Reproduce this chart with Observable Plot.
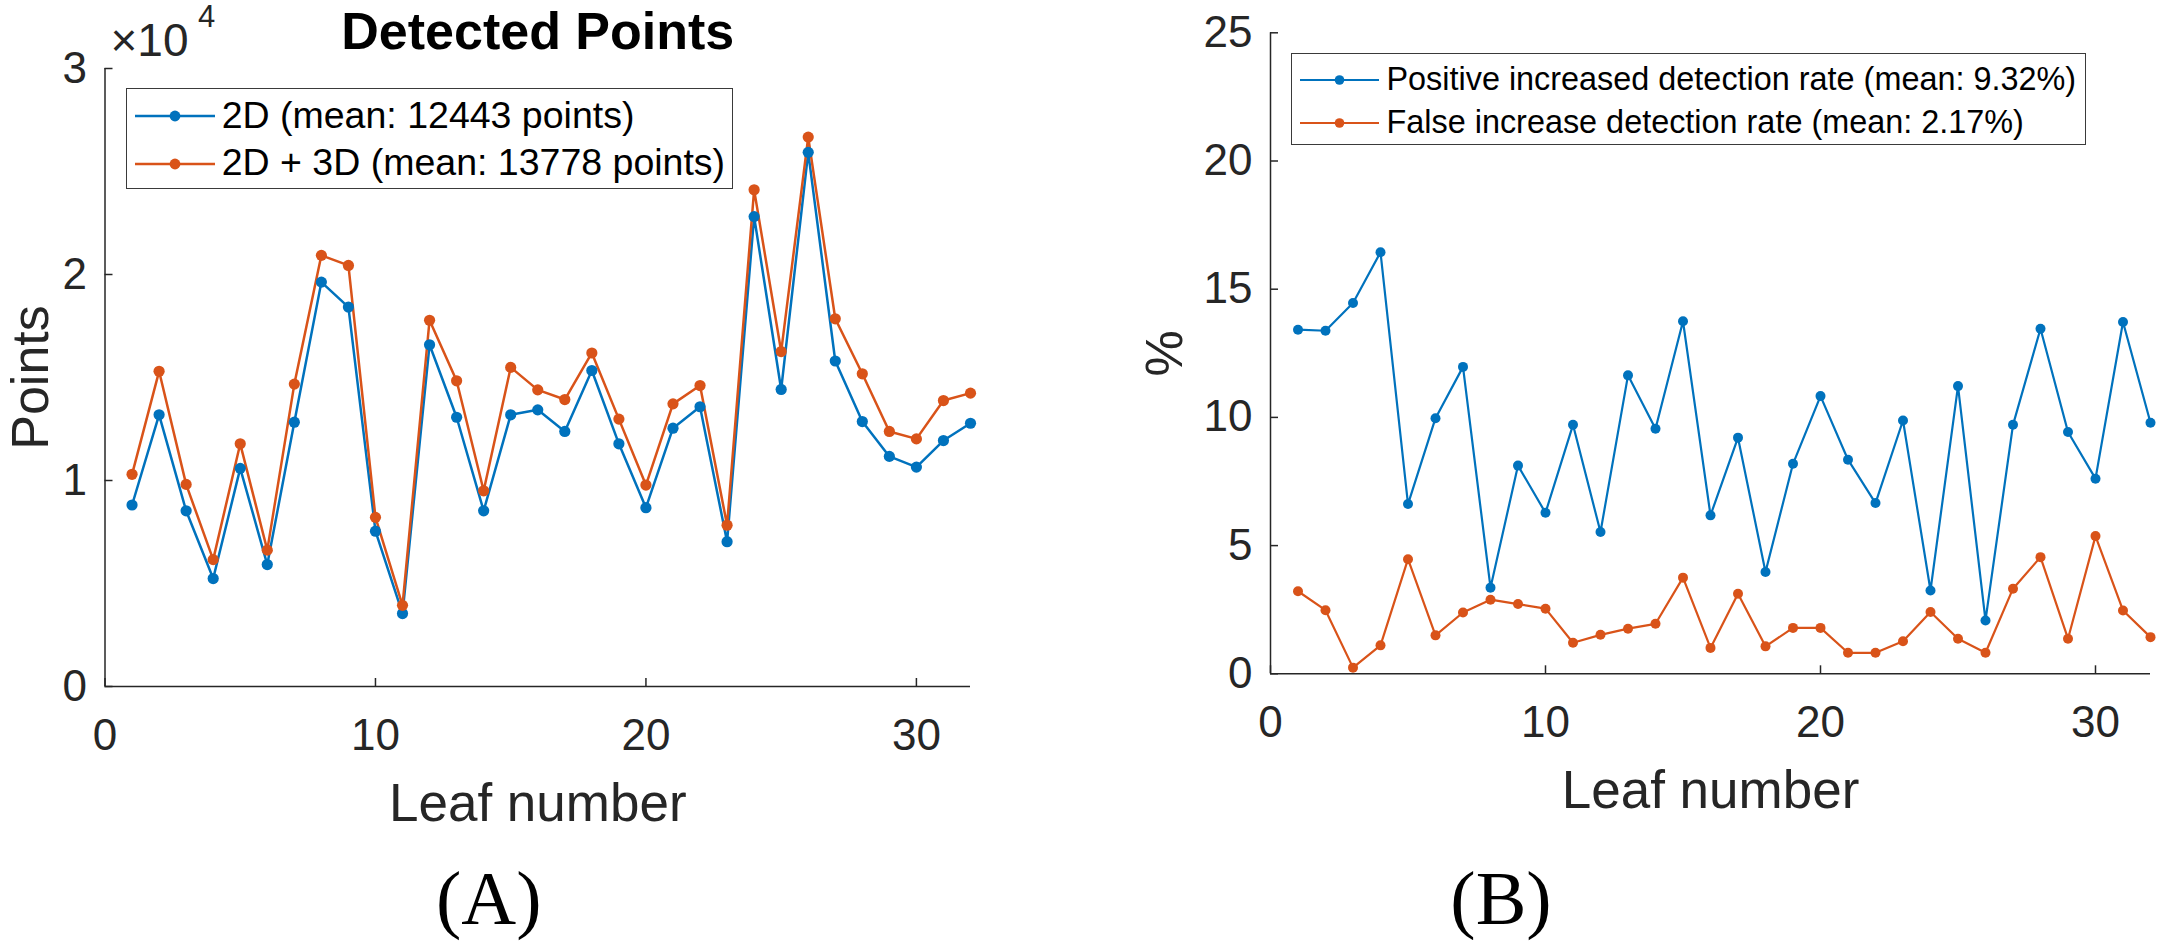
<!DOCTYPE html>
<html>
<head>
<meta charset="utf-8">
<script src="https://cdn.jsdelivr.net/npm/d3@7"></script>
<script src="https://cdn.jsdelivr.net/npm/@observablehq/plot@0.6"></script>
<style>
html, body { margin: 0; padding: 0; background: #fff; }
#page { position: relative; width: 2162px; height: 947px; overflow: hidden; font-family: "Liberation Sans", Arial, Helvetica, sans-serif; color: #000; }
.panel { position: absolute; top: 0; }
.legend { position: absolute; box-sizing: border-box; border: 1.5px solid #3a3a3a; background: #fff; }
.legend svg { position: absolute; overflow: visible; }
.legend .txt { position: absolute; white-space: nowrap; line-height: 1; color: #000; }
</style>
</head>
<body>
<div id="page"></div>
<script>
// ---------- data ----------
const leaves = [1, 2, 3, 4, 5, 6, 7, 8, 9, 10, 11, 12, 13, 14, 15, 16, 17, 18, 19, 20, 21, 22, 23, 24, 25, 26, 27, 28, 29, 30, 31, 32];
const points2D = [8810, 13190, 8530, 5240, 10590, 5920, 12830, 19630, 18420, 7540, 3540, 16590, 13070, 8530, 13190, 13430, 12380, 15340, 11780, 8680, 12540, 13580, 7030, 22810, 14420, 25930, 15800, 12860, 11170, 10650, 11940, 12780];
const points2D3D = [10300, 15300, 9810, 6160, 11780, 6620, 14680, 20930, 20440, 8210, 3940, 17780, 14840, 9500, 15490, 14400, 13930, 16190, 12980, 9780, 13720, 14610, 7830, 24110, 16260, 26670, 17850, 15180, 12380, 12020, 13880, 14240];
const positiveRate = [13.42, 13.38, 14.46, 16.44, 6.62, 9.97, 11.97, 3.36, 8.12, 6.28, 9.71, 5.53, 11.64, 9.56, 13.75, 6.18, 9.21, 3.97, 8.19, 10.83, 8.35, 6.66, 9.88, 3.25, 11.22, 2.08, 9.71, 13.46, 9.43, 7.61, 13.72, 9.79];
const falseRate = [3.22, 2.48, 0.24, 1.11, 4.47, 1.50, 2.39, 2.89, 2.72, 2.54, 1.21, 1.52, 1.76, 1.95, 3.75, 1.01, 3.12, 1.07, 1.79, 1.79, 0.82, 0.82, 1.27, 2.41, 1.37, 0.82, 3.32, 4.55, 1.37, 5.37, 2.47, 1.43];

const seriesA = ["2D (mean: 12443 points)", "2D + 3D (mean: 13778 points)"];
const seriesB = ["Positive increased detection rate (mean: 9.32%)", "False increase detection rate (mean: 2.17%)"];
const colors = ["#0072BD", "#D95319"];

const xTicks = [0, 10, 20, 30];
const yTicksA = [0, 10000, 20000, 30000];
const yTicksB = [0, 5, 10, 15, 20, 25];
const xDomain = [0, 32];
const yDomainA = [0, 30000];
const yDomainB = [0, 25];

const titleA = "Detected Points";
const xLabel = "Leaf number";
const yLabelA = "Points";
const yLabelB = "%";
const exponentBase = "×10";
const exponentPower = "4";
const panelLabels = ["(A)", "(B)"];

// ---------- build tables ----------
const dataA = [
  ...leaves.map((leaf, i) => ({leaf, value: points2D[i], series: seriesA[0]})),
  ...leaves.map((leaf, i) => ({leaf, value: points2D3D[i], series: seriesA[1]}))
];
const dataB = [
  ...leaves.map((leaf, i) => ({leaf, value: positiveRate[i], series: seriesB[0]})),
  ...leaves.map((leaf, i) => ({leaf, value: falseRate[i], series: seriesB[1]}))
];

const axisColor = "#262626";
const sans = '"Liberation Sans", Arial, Helvetica, sans-serif';
const serif = '"Liberation Serif", "Times New Roman", "DejaVu Serif", serif';
const page = document.getElementById("page");

function axes(yTicks, yFormat, label, labelDx) {
  return [
    Plot.ruleY([0], {stroke: axisColor, strokeWidth: 1.5}),
    Plot.ruleX([0], {stroke: axisColor, strokeWidth: 1.5}),
    Plot.axisX({ticks: xTicks, tickSize: -8, tickPadding: 40, fontSize: 44, label: null, stroke: axisColor, fill: axisColor, strokeWidth: 1.5}),
    Plot.axisY({ticks: yTicks, tickSize: -8, tickPadding: 26, fontSize: 44, tickFormat: yFormat, label: null, stroke: axisColor, fill: axisColor, strokeWidth: 1.5}),
    Plot.text([xLabel], {frameAnchor: "bottom", dy: 134, lineAnchor: "bottom", textAnchor: "middle", fontSize: 53, fill: axisColor}),
    Plot.text([label], {frameAnchor: "left", dx: labelDx, rotate: -90, lineAnchor: "bottom", textAnchor: "middle", fontSize: 52, fill: axisColor})
  ];
}

// ---------- panel A ----------
const plotA = Plot.plot({
  width: 1081, height: 947,
  marginLeft: 104.5, marginRight: 111, marginTop: 68, marginBottom: 261,
  x: {domain: xDomain},
  y: {domain: yDomainA},
  color: {domain: seriesA, range: colors},
  style: {fontFamily: sans, background: "transparent", overflow: "visible"},
  marks: [
    ...axes(yTicksA, d => d / 10000, yLabelA, -57),
    Plot.line(dataA, {x: "leaf", y: "value", z: "series", stroke: "series", strokeWidth: 2.5}),
    Plot.dot(dataA, {x: "leaf", y: "value", fill: "series", r: 5.6}),
    Plot.text([titleA], {frameAnchor: "top", dy: -20, lineAnchor: "bottom", textAnchor: "middle", fontSize: 52, fontWeight: "bold", fill: "#000"}),
    Plot.text([exponentBase], {frameAnchor: "top-left", dx: 5.5, dy: -13, lineAnchor: "bottom", textAnchor: "start", fontSize: 46, fill: axisColor}),
    Plot.text([exponentPower], {frameAnchor: "top-left", dx: 93, dy: -41.5, lineAnchor: "bottom", textAnchor: "start", fontSize: 31, fill: axisColor}),
    Plot.text([panelLabels[0]], {frameAnchor: "bottom", dx: -49, dy: 237, lineAnchor: "bottom", textAnchor: "middle", fontSize: 76, fontFamily: serif, fill: "#000"})
  ]
});
plotA.classList.add("panel");
plotA.style.left = "0px";
page.appendChild(plotA);

// ---------- panel B ----------
const plotB = Plot.plot({
  width: 1081, height: 947,
  marginLeft: 189, marginRight: 12, marginTop: 32.3, marginBottom: 273.7,
  x: {domain: xDomain},
  y: {domain: yDomainB},
  color: {domain: seriesB, range: colors},
  style: {fontFamily: sans, background: "transparent", overflow: "visible"},
  marks: [
    ...axes(yTicksB, d => d, yLabelB, -88.4),
    Plot.line(dataB, {x: "leaf", y: "value", z: "series", stroke: "series", strokeWidth: 2.2}),
    Plot.dot(dataB, {x: "leaf", y: "value", fill: "series", r: 5}),
    Plot.text([panelLabels[1]], {frameAnchor: "bottom", dx: -209.5, dy: 250, lineAnchor: "bottom", textAnchor: "middle", fontSize: 76, fontFamily: serif, fill: "#000"})
  ]
});
plotB.classList.add("panel");
plotB.style.left = "1081px";
page.appendChild(plotB);

// ---------- legends ----------
function legend(series, box) {
  const div = document.createElement("div");
  div.className = "legend";
  div.style.left = box.left + "px";
  div.style.top = box.top + "px";
  div.style.width = box.width + "px";
  div.style.height = box.height + "px";
  series.forEach((name, i) => {
    const cy = box.rows[i] - box.top;
    const svg = document.createElementNS("http://www.w3.org/2000/svg", "svg");
    svg.setAttribute("width", box.swatch);
    svg.setAttribute("height", 20);
    svg.style.left = (box.swatchLeft - box.left) + "px";
    svg.style.top = (cy - 10) + "px";
    const ln = document.createElementNS("http://www.w3.org/2000/svg", "line");
    ln.setAttribute("x1", 0); ln.setAttribute("x2", box.swatch);
    ln.setAttribute("y1", 10); ln.setAttribute("y2", 10);
    ln.setAttribute("stroke", colors[i]); ln.setAttribute("stroke-width", box.lw);
    const c = document.createElementNS("http://www.w3.org/2000/svg", "circle");
    c.setAttribute("cx", box.swatch / 2); c.setAttribute("cy", 10); c.setAttribute("r", box.r);
    c.setAttribute("fill", colors[i]);
    svg.appendChild(ln); svg.appendChild(c);
    div.appendChild(svg);
    const t = document.createElement("div");
    t.className = "txt";
    t.textContent = name;
    t.style.fontSize = box.fontSize + "px";
    t.style.left = (box.textLeft - box.left) + "px";
    t.style.top = (cy - box.fontSize * 0.52) + "px";
    div.appendChild(t);
  });
  page.appendChild(div);
}
legend(seriesA, {left: 126, top: 88, width: 607, height: 101, rows: [115, 162.5], swatchLeft: 134, swatch: 80, textLeft: 220.7, fontSize: 37.5, lw: 2.5, r: 5.4});
legend(seriesB, {left: 1290.7, top: 53.3, width: 795, height: 92, rows: [79.3, 121.7], swatchLeft: 1299, swatch: 79, textLeft: 1385.5, fontSize: 32.4, lw: 2.2, r: 4.8});
</script>
</body>
</html>
